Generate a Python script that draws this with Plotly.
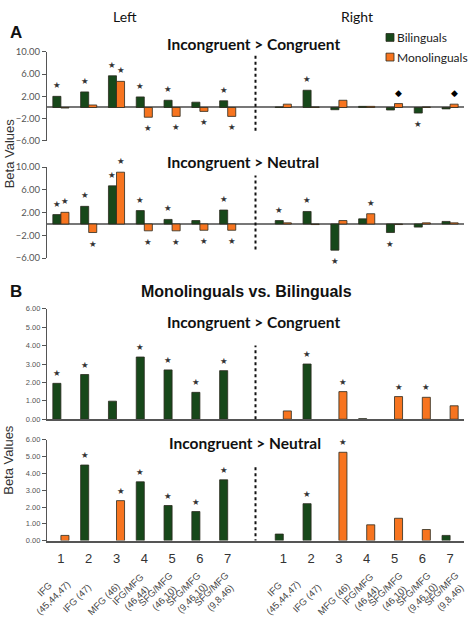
import plotly.graph_objects as go

W, H = 475, 618

# ---------------- data ----------------
region_labels = ["IFG<br>(45,44,47)", "IFG (47)", "MFG (46)", "IFG/MFG<br>(46,44)",
                 "SFG/MFG<br>(46,10)", "SFG/MFG<br>(9,46,10)", "SFG/MFG<br>(9,8,46)"]
region_numbers = ["1", "2", "3", "4", "5", "6", "7"]
left_positions = [1, 2, 3, 4, 5, 6, 7]
right_positions = [9, 10, 11, 12, 13, 14, 15]
divider_position = 8
positions = left_positions + right_positions
series_names = ["Bilinguals", "Monolinguals"]

# Panel A, Incongruent > Congruent (left 1-7, right 1-7)
a1_bil = [2.0, 2.8, 5.7, 1.9, 1.3, 0.95, 1.2, 0.1, 3.1, -0.4, 0.2, -0.45, -1.0, -0.25]
a1_mono = [-0.1, 0.45, 4.7, -1.75, -1.6, -0.7, -1.6, 0.6, 0.1, 1.3, 0.2, 0.7, 0.1, 0.6]
a1_bil_sig = ["★", "★", "★", "★", "★", "", "★", "", "★", "", "", "", "★", ""]
a1_mono_sig = ["", "", "★", "★", "★", "★", "★", "", "", "", "", "◆", "", "◆"]

# Panel A, Incongruent > Neutral
a2_bil = [1.65, 3.1, 6.7, 2.35, 0.8, 0.6, 2.45, 0.6, 2.2, -4.6, 0.9, -1.5, -0.55, 0.45]
a2_mono = [2.05, -1.5, 9.1, -1.2, -1.2, -1.1, -1.1, 0.2, -0.1, 0.6, 1.8, -0.1, 0.2, 0.2]
a2_bil_sig = ["★", "★", "★", "★", "★", "", "★", "★", "★", "★", "", "★", "", ""]
a2_mono_sig = ["★", "★", "★", "★", "★", "★", "★", "", "", "", "★", "", "", ""]

# Panel B, Monolinguals vs. Bilinguals, Incongruent > Congruent
b1_bil = [1.95, 2.43, 0.98, 3.38, 2.68, 1.46, 2.64, None, 3.0, None, 0.03, None, None, None]
b1_mono = [None, None, None, None, None, None, None, 0.45, None, 1.5, None, 1.23, 1.19, 0.73]
b1_bil_sig = ["★", "★", "", "★", "★", "★", "★", "", "★", "", "", "", "", ""]
b1_mono_sig = ["", "", "", "", "", "", "", "", "", "★", "", "★", "★", ""]

# Panel B, Incongruent > Neutral
b2_bil = [None, 4.5, None, 3.5, 2.09, 1.73, 3.62, 0.39, 2.2, None, None, None, None, 0.31]
b2_mono = [0.31, None, 2.38, None, None, None, None, None, None, 5.26, 0.94, 1.33, 0.66, None]
b2_bil_sig = ["", "★", "", "★", "★", "★", "★", "", "★", "", "", "", "", ""]
b2_mono_sig = ["", "", "★", "", "", "", "", "", "", "★", "", "", "", ""]

a_ticks = [-6, -2, 2, 6, 10]
b_ticks = [0, 1, 2, 3, 4, 5, 6]

# ---------------- style ----------------
GREEN = "#17481a"
ORANGE = "#f7741f"
EDGE = "#2b2b1f"
CAL = "Lato, 'Open Sans', sans-serif"
ARIAL = "'Liberation Sans', Arial, sans-serif"
BARGAP = 0.42
OFF = (1 - BARGAP) / 4  # centre offset of each bar in a group


def px(x):
    return x / W


def py(y):
    return 1 - y / H


fig = go.Figure()

panels = [
    dict(bil=a1_bil, mono=a1_mono, bsig=a1_bil_sig, msig=a1_mono_sig, dom=(137.3, 46.7),
         rng=[-6, 10], ticks=a_ticks, kind="A", div=(-4.2, 9.4)),
    dict(bil=a2_bil, mono=a2_mono, bsig=a2_bil_sig, msig=a2_mono_sig, dom=(256.7, 164.0),
         rng=[-6, 10], ticks=a_ticks, kind="A", div=(-4.5, 8.5)),
    dict(bil=b1_bil, mono=b1_mono, bsig=b1_bil_sig, msig=b1_mono_sig, dom=(420.7, 308.3),
         rng=[0, 6], ticks=b_ticks, kind="B", div=(0, 4.0)),
    dict(bil=b2_bil, mono=b2_mono, bsig=b2_bil_sig, msig=b2_mono_sig, dom=(544.3, 441.7),
         rng=[0, 6], ticks=b_ticks, kind="B", div=(-0.1, 4.5)),
]

annotations = []
shapes = []
layout_axes = {}

for i, p in enumerate(panels, start=1):
    xa = "x" if i == 1 else f"x{i}"
    ya = "y" if i == 1 else f"y{i}"
    for name, vals, col, sig, sign in [(series_names[0], p["bil"], GREEN, p["bsig"], -1),
                                       (series_names[1], p["mono"], ORANGE, p["msig"], 1)]:
        fig.add_trace(go.Bar(
            x=positions, y=vals, name=name, marker=dict(color=col, line=dict(color=EDGE, width=0.8)),
            xaxis=xa, yaxis=ya, showlegend=False, hoverinfo="skip"))
        for xpos, v, s in zip(positions, vals, sig):
            if not s or v is None:
                continue
            shift = (11 if p["kind"] == "A" else 10)
            annotations.append(dict(
                x=xpos + sign * OFF, y=v, xref=xa, yref=ya, text=s, showarrow=False,
                yshift=shift if v >= 0 else -shift,
                font=dict(family="DejaVu Sans", size=8.5 if s == "★" else 9,
                          color="#333" if s == "★" else "#000")))
    shapes.append(dict(type="line", xref=xa, yref=ya, x0=divider_position, x1=divider_position,
                       y0=p["div"][0], y1=p["div"][1], line=dict(color="#111", width=2, dash="dot")))

    xkey = "xaxis" if i == 1 else f"xaxis{i}"
    ykey = "yaxis" if i == 1 else f"yaxis{i}"
    is_last = (i == 4)
    layout_axes[xkey] = dict(
        domain=[px(47), px(464)], range=[0.5, 15.5], anchor=ya,
        showgrid=False, zeroline=False,
        showline=(p["kind"] == "B"), linecolor="#555", linewidth=1.5,
        tickmode="array", tickvals=positions if is_last else [],
        ticktext=(region_numbers + region_numbers) if is_last else [],
        showticklabels=is_last, ticks="",
        tickfont=dict(family=ARIAL, size=13, color="#333"), ticklabelstandoff=5)
    layout_axes[ykey] = dict(
        domain=[py(p["dom"][0]), py(p["dom"][1])], range=p["rng"], anchor=xa,
        showgrid=False, zeroline=(p["kind"] == "A"), zerolinecolor="#777", zerolinewidth=1.5,
        showline=True, linecolor="#555", linewidth=1.2,
        ticks="outside", ticklen=4, tickcolor="#555", tickwidth=1,
        tickmode="array", tickvals=p["ticks"], tickformat=".2f",
        tickfont=dict(family=CAL if p["kind"] == "A" else ARIAL,
                      size=9.5 if p["kind"] == "A" else 7.5, color="#555"))

# rotated region labels under the last panel (centre of each rotated block)
for k, (xpos, lab) in enumerate(zip(positions, region_labels + region_labels)):
    dx = -0.45 if k < 7 else -0.18
    yc = 598 if "<br>" in lab else 603
    annotations.append(dict(x=xpos + dx, y=py(yc), xref="x4", yref="paper", text=lab,
                            textangle=-45, showarrow=False, xanchor="center", yanchor="middle",
                            align="center", font=dict(family=ARIAL, size=9.5, color="#444")))

# texts
def txt(x, y, s, size, family=CAL, bold=False, xanchor="center", color="#111", angle=0):
    annotations.append(dict(x=px(x), y=py(y), xref="paper", yref="paper",
                            text=f"<b>{s}</b>" if bold else s, showarrow=False,
                            xanchor=xanchor, yanchor="middle", textangle=angle,
                            font=dict(family=family, size=size, color=color)))

txt(125, 11, "Left", 14)
txt(357, 11, "Right", 14)
txt(16, 27, "A", 17, family=ARIAL, bold=True)
txt(16, 291, "B", 17, family=ARIAL, bold=True)
txt(165, 39, "Incongruent &gt; Congruent", 15.5, bold=True, xanchor="left")
txt(165, 159, "Incongruent &gt; Neutral", 15.5, bold=True, xanchor="left")
txt(139, 291, "Monolinguals vs. Bilinguals", 16, family=ARIAL, bold=True, xanchor="left")
txt(165, 322, "Incongruent &gt; Congruent", 15.5, bold=True, xanchor="left")
txt(167, 445, "Incongruent &gt; Neutral", 15.5, bold=True, xanchor="left")
txt(9, 150, "Beta Values", 13, family=ARIAL, color="#333", angle=-90)
txt(9, 462, "Beta Values", 13, family=ARIAL, color="#333", angle=-90)

# legend (manual)
for k, (name, col) in enumerate(zip(series_names, [GREEN, ORANGE])):
    yc = 32 + 20 * k
    shapes.append(dict(type="rect", xref="paper", yref="paper", x0=px(386), x1=px(394),
                       y0=py(yc + 4), y1=py(yc - 4), fillcolor=col, line=dict(color=EDGE, width=0.8)))
    txt(395, yc, name, 12, xanchor="left", color="#222")

fig.update_layout(
    width=W, height=H, margin=dict(l=0, r=0, t=0, b=0),
    paper_bgcolor="white", plot_bgcolor="white",
    barmode="group", bargap=BARGAP, bargroupgap=0,
    showlegend=False, annotations=annotations, shapes=shapes, **layout_axes)

fig.write_html("out.html", config={"displayModeBar": False},
               post_script="document.body.style.margin='0';document.body.style.overflow='hidden';")
